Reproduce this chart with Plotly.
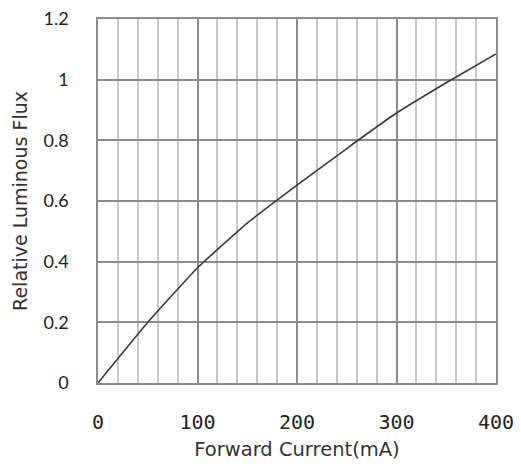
import plotly.graph_objects as go

current_ma = [0, 50, 100, 150, 200, 250, 300, 350, 400]
relative_flux = [0.0, 0.20, 0.38, 0.527, 0.652, 0.773, 0.89, 0.99, 1.085]

x_ticks = [0, 100, 200, 300, 400]
y_ticks = [0, 0.2, 0.4, 0.6, 0.8, 1.0, 1.2]
y_tick_text = ["0", "0.2", "0.4", "0.6", "0.8", "1", "1.2"]

fig = go.Figure()
fig.add_trace(go.Scatter(
    x=current_ma, y=relative_flux, mode="lines",
    line=dict(color="#3a3a3a", width=1.6, shape="spline", smoothing=0.3),
    showlegend=False, hoverinfo="skip",
))

sans = "Lato"
title_font = "DejaVu Sans"
mono = "DejaVu Sans Mono"
# the page body has an 8px default margin, so the figure is sized/offset to compensate
fig.update_layout(
    width=513, height=462,
    margin=dict(l=90, r=25, t=11, b=87),
    paper_bgcolor="white", plot_bgcolor="white",
    font=dict(family=sans, size=18, color="#222"),
    xaxis=dict(
        range=[0, 400], tickvals=x_ticks, ticktext=[str(v) for v in x_ticks],
        automargin=False, ticklabeloverflow="allow",
        showgrid=True, gridcolor="#8c8c8c", gridwidth=1.5,
        minor=dict(dtick=20, tick0=0, showgrid=True, gridcolor="#c8c8c8", gridwidth=1.5),
        showline=True, linecolor="#8c8c8c", linewidth=1.5, mirror=True,
        ticks="", ticklabelstandoff=20, zeroline=False,
        tickfont=dict(size=20, family=mono, color="#222"),
        title=dict(text="Forward Current(mA)", standoff=10,
                   font=dict(size=19.5, family=title_font, color="#333")),
    ),
    yaxis=dict(
        range=[0, 1.2], tickvals=y_ticks, ticktext=y_tick_text,
        automargin=False, ticklabeloverflow="allow",
        showgrid=True, gridcolor="#8c8c8c", gridwidth=1.5,
        showline=True, linecolor="#8c8c8c", linewidth=1.5, mirror=True,
        ticks="", ticklabelstandoff=24, zeroline=False,
        tickfont=dict(size=18, family=sans, color="#222"),
        title=dict(text="Relative Luminous Flux", standoff=11,
                   font=dict(size=19, family=title_font, color="#333")),
    ),
)

fig.write_html("out.html")
